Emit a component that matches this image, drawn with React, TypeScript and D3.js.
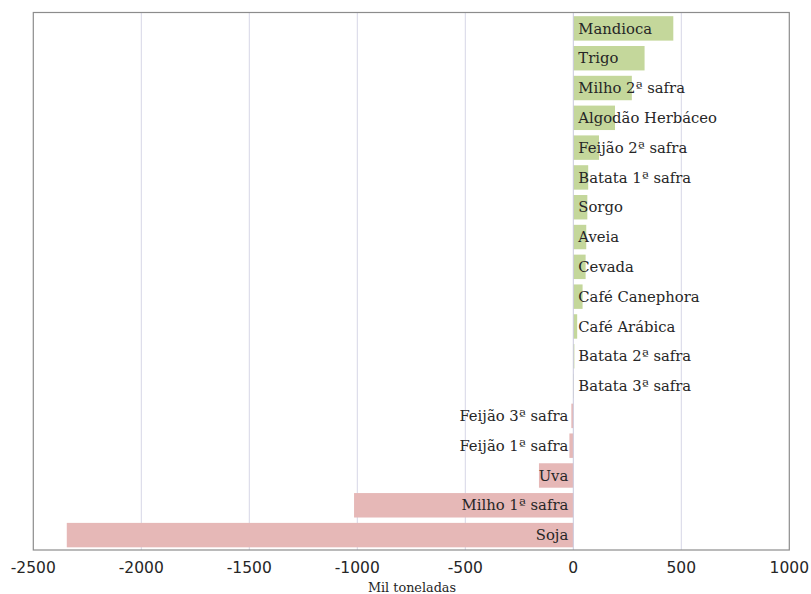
import React from "react";
import * as d3 from "d3";

const categories = [
  "Mandioca", "Trigo", "Milho 2ª safra", "Algodão Herbáceo", "Feijão 2ª safra",
  "Batata 1ª safra", "Sorgo", "Aveia", "Cevada", "Café Canephora", "Café Arábica",
  "Batata 2ª safra", "Batata 3ª safra", "Feijão 3ª safra", "Feijão 1ª safra",
  "Uva", "Milho 1ª safra", "Soja",
];
const values = [463, 330, 271, 193, 119, 69, 65, 60, 57, 43, 18, 5, 2, -9, -18, -159, -1015, -2345];
const xTicks = [-2500, -2000, -1500, -1000, -500, 0, 500, 1000];
const axisTitle = "Mil toneladas";

const W = 811, H = 594;
const left = 33.3, right = 789.3, top = 12.5, bottom = 550;

export default function App() {
  const x = d3.scaleLinear().domain([-2500, 1000]).range([left, right]);
  const y = d3.scaleBand<string>().domain(categories).range([top + 1, bottom]).paddingInner(0.18).paddingOuter(0.09);
  const serif = "'DejaVu Serif', serif";
  const sans = "'DejaVu Sans', sans-serif";
  return (
    <svg width={W} height={H} style={{ position: "absolute", left: 0, top: 0, background: "#fff" }}>
      <rect x={0} y={0} width={W} height={H} fill="#fff" />
      {xTicks.filter(t => t !== -2500 && t !== 1000 && t !== 0).map(t => (
        <line key={t} x1={x(t)} x2={x(t)} y1={top} y2={bottom} stroke="#d6d6e6" strokeWidth={1} />
      ))}
      {categories.map((c, i) => {
        const v = values[i];
        const x0 = x(Math.min(0, v));
        const w = Math.abs(x(v) - x(0));
        return (
          <rect key={c} x={x0} y={y(c)} width={w} height={y.bandwidth()} fill={v >= 0 ? "#c4d79b" : "#e6b8b7"} />
        );
      })}
      <line x1={x(0)} x2={x(0)} y1={top} y2={bottom} stroke="#c8c8dc" strokeWidth={1} />
      <rect x={left} y={top} width={right - left} height={bottom - top} fill="none" stroke="#8c8c8c" strokeWidth={1.2} />
      {categories.map((c, i) => {
        const v = values[i];
        const pos = v >= 0;
        return (
          <text key={c} x={pos ? x(0) + 5 : x(0) - 5} y={(y(c) as number) + y.bandwidth() / 2} dy="0.35em"
            textAnchor={pos ? "start" : "end"} fontFamily={serif} fontSize={14.8} fill="#262626">{c}</text>
        );
      })}
      {xTicks.map(t => (
        <text key={t} x={x(t)} y={568} dy="0.35em" textAnchor="middle" fontFamily={sans} fontSize={15.5} fill="#262626">{t}</text>
      ))}
      <text x={412} y={588} dy="0.35em" textAnchor="middle" fontFamily={serif} fontSize={12.8} fill="#262626">{axisTitle}</text>
    </svg>
  );
}
